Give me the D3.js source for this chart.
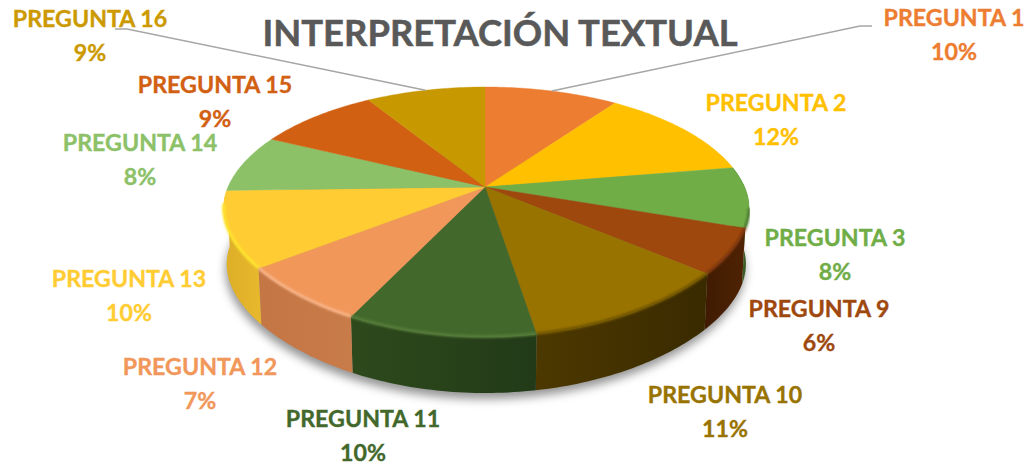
<!DOCTYPE html>
<html><head><meta charset="utf-8">
<script src="https://cdn.jsdelivr.net/npm/d3@7"></script>
<style>html,body{margin:0;padding:0;background:#fff}svg{display:block}text{font-family:Lato,sans-serif;font-weight:700}</style>
</head><body><svg id="c" width="1034" height="468"></svg>
<script>
const title = "INTERPRETACIÓN TEXTUAL";
const categories = ["PREGUNTA 1","PREGUNTA 2","PREGUNTA 3","PREGUNTA 9","PREGUNTA 10","PREGUNTA 11","PREGUNTA 12","PREGUNTA 13","PREGUNTA 14","PREGUNTA 15","PREGUNTA 16"];
const values = [9.9,12.45,7.9,5.9,11.3,9.7,7.4,10.0,7.55,9.0,8.9];
const colors = ["#ED7D31","#FFC000","#70AD47","#9E480E","#997300","#43682B","#F1975A","#FFCD33","#8CC168","#D26012","#C89800"];
const labelColors = ["#ED7D31","#FFC000","#70AD47","#9E480E","#997300","#43682B","#F1975A","#FFCD33","#8CC168","#D26012","#CC9A00"];
const wallColors = [null,null,["#3f6328","#2c4a1a"],["#4f2304","#3f1b02"],["#3a2a00","#4c3800"],["#223a18","#2e4a1c"],["#c87c4a","#c47644"],["#e8b82c","#dcae28"],null,null,null];
const rimColors = [null,null,"#4d7a30","#7a3609","#6e5300","#567d3a","#f8b488","#ffe52e",null,null,null];
const labelCenters = [[954,18],[776,103],[835,238],[819,309],[725,395],[363,419],[200,367],[129,279],[140,143],[215,85],[90,19]];
const leaderElbows = {0:[[860,26],[872,26]],10:[[127,29],[115,29]]};

const svg = d3.select("#c");
const defs = svg.append("defs");
const cx=485, cy=187, A=120, B=259.6, k=0.2, depth=56, shrink=0.988;
const fx = Math.PI/180;
function proj(t,f=0){
  const s=1/(1+k*Math.cos(t));
  const c=Math.cos(t)<0 ? 1-0.025*Math.sin(2*t)**2 : 1;
  const x=B*Math.sin(t)*s*c*(Math.sin(t)<0?0.99:1), y=-A*Math.cos(t)*s*c;
  return f? [cx+x*shrink, cy+y+depth] : [cx+x, cy+y];
}
const arcs = d3.pie().sort(null).value(d=>d)(values);
const samples=(a,b)=>{const n=Math.max(8,Math.ceil((b-a)/fx));return d3.range(n+1).map(i=>a+(b-a)*i/n);};
const line=d3.line();

const f1=defs.append("filter").attr("id","sh").attr("x","-20%").attr("y","-20%").attr("width","140%").attr("height","140%");
f1.append("feGaussianBlur").attr("stdDeviation",5);
const f2=defs.append("filter").attr("id","rb").attr("x","-20%").attr("y","-20%").attr("width","140%").attr("height","140%");
f2.append("feGaussianBlur").attr("stdDeviation",1.3);

// shadow
const full=samples(0,2*Math.PI);
svg.append("path").attr("d",line(full.map(t=>{const p=proj(t,1);return [p[0]-1,p[1]+6];}))+"Z")
  .attr("fill","rgba(0,0,0,0.42)").attr("filter","url(#sh)");

// walls
arcs.forEach((d,i)=>{
  if(!wallColors[i]) return;
  const g=defs.append("linearGradient").attr("id","w"+i);
  g.append("stop").attr("offset",0).attr("stop-color",wallColors[i][1]);
  g.append("stop").attr("offset",1).attr("stop-color",wallColors[i][0]);
  const ts=samples(d.startAngle,d.endAngle);
  const pts=ts.map(t=>proj(t)).concat(ts.slice().reverse().map(t=>proj(t,1)));
  svg.append("path").attr("d",line(pts)+"Z").attr("fill",`url(#w${i})`);
});

// top faces
arcs.forEach((d,i)=>{
  const pts=[[cx,cy]].concat(samples(d.startAngle,d.endAngle).map(t=>proj(t)));
  svg.append("path").attr("d",line(pts)+"Z").attr("fill",colors[i]).attr("stroke",colors[i]).attr("stroke-width",0.4);
});

// bevel along the front rim
arcs.forEach((d,i)=>{
  if(!rimColors[i]) return;
  const a=Math.max(d.startAngle,100*fx), b=Math.min(d.endAngle,262*fx);
  svg.append("path").attr("d",line(samples(a,b).map(t=>{const p=proj(t);return [p[0],p[1]-0.5];})))
    .attr("fill","none").attr("stroke",rimColors[i]).attr("stroke-width",3).attr("filter","url(#rb)");
});

// leader lines
Object.keys(leaderElbows).forEach(key=>{
  const i=+key, d=arcs[i];
  const pts=[proj((d.startAngle+d.endAngle)/2)].concat(leaderElbows[key]);
  svg.append("path").attr("d",line(pts)).attr("fill","none").attr("stroke","#a6a6a6").attr("stroke-width",1.5);
});

// title
svg.append("text").attr("x",500).attr("y",46).attr("text-anchor","middle").attr("font-size",36.4).attr("fill","#595959").attr("stroke","#595959").attr("stroke-width",0.5).text(title);

// labels
categories.forEach((c,i)=>{
  const [x,y]=labelCenters[i];
  const g=svg.append("g").attr("fill",labelColors[i]).attr("stroke",labelColors[i]).attr("stroke-width",0.35).attr("text-anchor","middle").attr("font-size",23.2);
  g.append("text").attr("x",x).attr("y",y+8).text(c);
  g.append("text").attr("x",x).attr("y",y+42).text(Math.round(values[i])+"%");
});
</script></body></html>
